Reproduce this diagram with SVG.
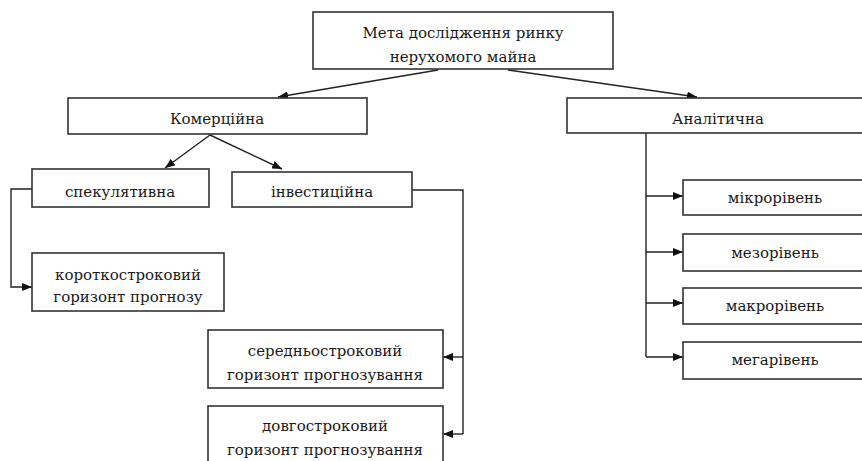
<svg xmlns="http://www.w3.org/2000/svg" width="862" height="461" viewBox="0 0 862 461">
<defs>
<marker id="ah" viewBox="0 0 10 8" refX="10" refY="4" markerWidth="10" markerHeight="8" markerUnits="userSpaceOnUse" orient="auto">
<path d="M0,0 L10,4 L0,8 Z" fill="#111"/>
</marker>
<style>
rect{fill:#fff;stroke:#333;stroke-width:1.6}
text{font-family:'DejaVu Serif','Liberation Serif',serif;font-size:15px;fill:#1a1a1a;text-anchor:middle}
.c{fill:none;stroke:#222;stroke-width:1.4}
</style>
</defs>
<rect x="0" y="0" width="862" height="461" style="fill:#fff;stroke:none"/>
<g id="connectors">
<line class="c" x1="438" y1="70" x2="278" y2="97" marker-end="url(#ah)"/>
<line class="c" x1="508" y1="70" x2="697" y2="97" marker-end="url(#ah)"/>
<line class="c" x1="210" y1="135" x2="165" y2="168" marker-end="url(#ah)"/>
<line class="c" x1="210" y1="135" x2="282" y2="169" marker-end="url(#ah)"/>
<polyline class="c" points="32,189 11,189 11,287 32,287" marker-end="url(#ah)"/>
<polyline class="c" points="412,190 463,190 463,434"/>
<line class="c" x1="463" y1="357" x2="443" y2="357" marker-end="url(#ah)"/>
<line class="c" x1="463" y1="434" x2="443" y2="434" marker-end="url(#ah)"/>
<line class="c" x1="646" y1="133" x2="646" y2="357"/>
<line class="c" x1="646" y1="196" x2="683" y2="196" marker-end="url(#ah)"/>
<line class="c" x1="646" y1="252" x2="683" y2="252" marker-end="url(#ah)"/>
<line class="c" x1="646" y1="303" x2="683" y2="303" marker-end="url(#ah)"/>
<line class="c" x1="646" y1="357" x2="683" y2="357" marker-end="url(#ah)"/>
</g>
<g id="goal">
<rect x="313" y="12" width="300" height="57"/>
<text x="463" y="38">Мета дослідження ринку</text>
<text x="463" y="62">нерухомого майна</text>
</g>
<g id="commercial">
<rect x="68" y="98" width="299" height="36"/>
<text x="217" y="124">Комерційна</text>
</g>
<g id="analytical">
<rect x="567" y="98" width="305" height="35"/>
<text x="718" y="124">Аналітична</text>
</g>
<g id="speculative">
<rect x="32" y="169" width="177" height="38"/>
<text x="120" y="197">спекулятивна</text>
</g>
<g id="investment">
<rect x="232" y="172" width="180" height="35"/>
<text x="322" y="197">інвестиційна</text>
</g>
<g id="short">
<rect x="32" y="253" width="192" height="58"/>
<text x="128" y="280">короткостроковий</text>
<text x="128" y="302">горизонт прогнозу</text>
</g>
<g id="medium">
<rect x="208" y="330" width="235" height="58"/>
<text x="325" y="356">середньостроковий</text>
<text x="325" y="380">горизонт прогнозування</text>
</g>
<g id="long">
<rect x="208" y="406" width="235" height="70"/>
<text x="325" y="431">довгостроковий</text>
<text x="325" y="455">горизонт прогнозування</text>
</g>
<g id="micro">
<rect x="683" y="180" width="190" height="35"/>
<text x="775" y="203">мікрорівень</text>
</g>
<g id="meso">
<rect x="683" y="234" width="190" height="37"/>
<text x="775" y="258">мезорівень</text>
</g>
<g id="macro">
<rect x="683" y="288" width="190" height="36"/>
<text x="775" y="311">макрорівень</text>
</g>
<g id="mega">
<rect x="683" y="342" width="190" height="37"/>
<text x="775" y="365">мегарівень</text>
</g>
</svg>
